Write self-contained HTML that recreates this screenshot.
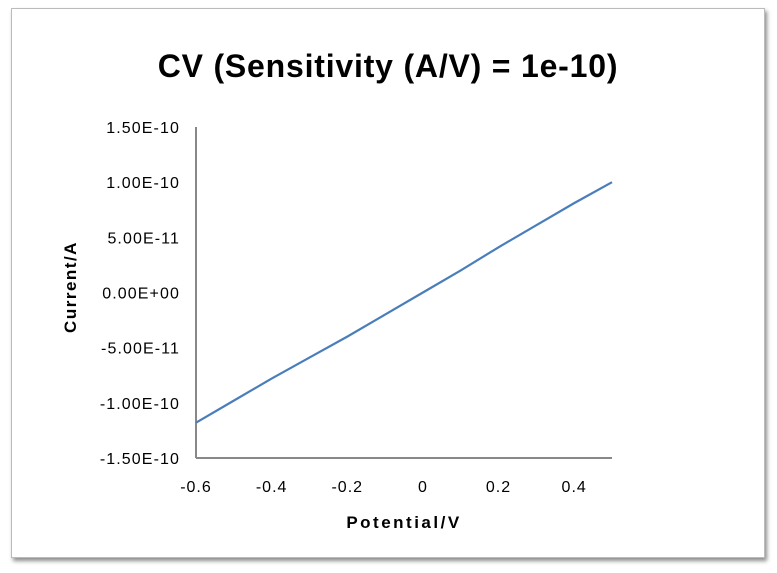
<!DOCTYPE html>
<html><head><meta charset="utf-8"><style>
body{margin:0;background:#fff;width:777px;height:573px;overflow:hidden;font-family:"Liberation Sans",sans-serif}
#frame{position:absolute;left:11px;top:8px;width:752px;height:548px;border:1px solid #bbb;box-shadow:2px 3px 4px rgba(0,0,0,.45);background:#fff}
svg{position:absolute;left:0;top:0}
</style></head><body>
<div id="frame"></div>
<svg width="777" height="573" id="chart">
<text x="388" y="77" text-anchor="middle" font-size="32" font-weight="bold" letter-spacing="0.8" fill="#000">CV (Sensitivity (A/V) = 1e-10)</text>
<text transform="translate(76,287) rotate(-90)" text-anchor="middle" font-size="17" font-weight="bold" letter-spacing="1.5">Current/A</text>
<text x="404" y="528" text-anchor="middle" font-size="17" font-weight="bold" letter-spacing="2.5">Potential/V</text>
<g id="ticks"></g>
<line x1="196" y1="127" x2="196" y2="458" stroke="#888" stroke-width="2"/>
<line x1="196" y1="458" x2="612" y2="458" stroke="#888" stroke-width="2"/>
<polyline id="series" fill="none" stroke="#4a7ebb" stroke-width="2.2"/>
</svg>
<script>
const potentials=[-0.6,-0.5,-0.4,-0.3,-0.2,-0.1,0,0.1,0.2,0.3,0.4,0.5];
const currents=[-1.18e-10,-0.98e-10,-0.78e-10,-0.59e-10,-0.40e-10,-0.20e-10,0,0.20e-10,0.41e-10,0.61e-10,0.81e-10,1.0e-10];
const yTicks=[1.5e-10,1e-10,5e-11,0,-5e-11,-1e-10,-1.5e-10];
const yLabels=["1.50E-10","1.00E-10","5.00E-11","0.00E+00","-5.00E-11","-1.00E-10","-1.50E-10"];
const xTicks=[-0.6,-0.4,-0.2,0,0.2,0.4];
const xLabels=["-0.6","-0.4","-0.2","0","0.2","0.4"];
const xs=v=>196+(v+0.6)/1.1*416;
const ys=v=>292.5-v/1.5e-10*165.5;
const NS="http://www.w3.org/2000/svg";
const g=document.getElementById('ticks');
yTicks.forEach((t,i)=>{const e=document.createElementNS(NS,'text');
e.setAttribute('x',180);e.setAttribute('y',ys(t)+6);e.setAttribute('text-anchor','end');e.setAttribute('font-size','16');e.setAttribute('letter-spacing','1.1');


e.textContent=yLabels[i];g.appendChild(e);});
xTicks.forEach((t,i)=>{const e=document.createElementNS(NS,'text');
e.setAttribute('x',xs(t));e.setAttribute('y',492);e.setAttribute('text-anchor','middle');e.setAttribute('font-size','16');e.setAttribute('letter-spacing','1');


e.textContent=xLabels[i];g.appendChild(e);});
document.getElementById('series').setAttribute('points',potentials.map((p,i)=>xs(p)+','+ys(currents[i])).join(' '));
</script>
</body></html>
